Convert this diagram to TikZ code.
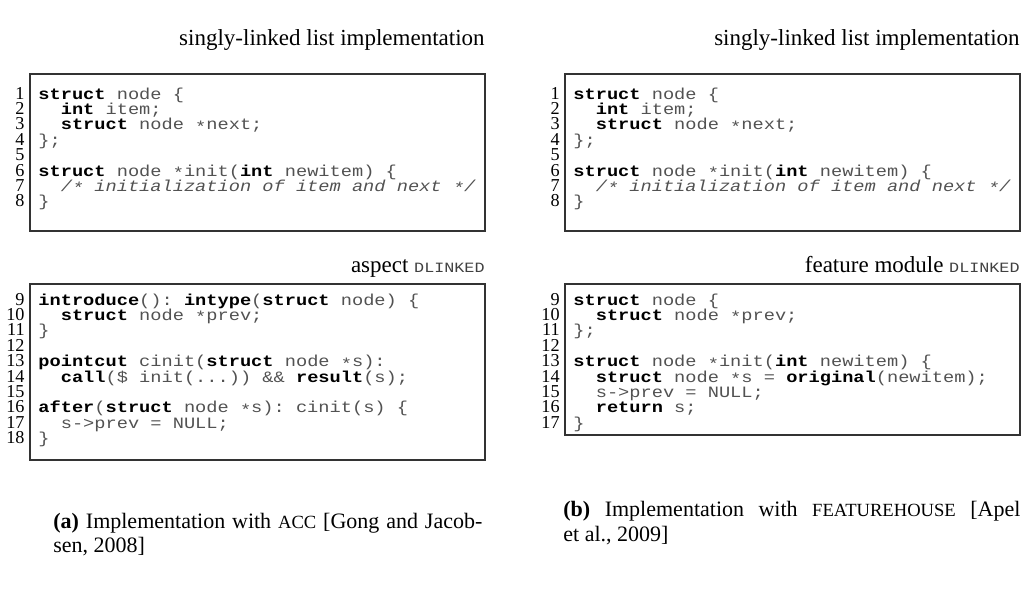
\documentclass[tikz,border=0pt]{standalone}
\usepackage{fontspec}
\setmainfont{Liberation Serif}
\setmonofont{Liberation Mono}[FakeStretch=1.18]
\newcommand\kw[1]{\textbf{\color{black}#1}}
\newcommand\cstar{\raisebox{-0.3ex}{*}}
\newcommand\fsc[1]{{\fontsize{9.3}{10}\selectfont #1}}
\newcommand\ttsc[1]{{\fontsize{7.1}{9}\ttfamily\color{black!75}#1}}
\tikzset{
  code/.style={anchor=base west, inner sep=0pt, font=\fontsize{7.91}{10}\ttfamily, text=black!68},
  lnum/.style={anchor=base east, inner sep=0pt, font=\fontsize{9.1}{11}\selectfont, text=black},
  ttl/.style={anchor=base east, inner sep=0pt, font=\fontsize{11.5}{13}\selectfont, text=black},
  captext/.style={anchor=base west, inner sep=0pt, font=\fontsize{11}{13}\selectfont, text=black},
  listframe/.style={draw=black!80, line width=0.55pt},
}
\begin{document}
\begin{tikzpicture}[x=0.5pt, y=-0.5pt]
\useasboundingbox (0,0) rectangle (1022,605);

% ---------------- left: ACC ----------------
\node[ttl] (ta1) at (485,46) {singly-linked list implementation};
\draw[listframe] (30,74) rectangle (485,231);
\node[lnum] (na1) at (25,99.0) {1};
\node[lnum] (na2) at (25,114.4) {2};
\node[lnum] (na3) at (25,129.8) {3};
\node[lnum] (na4) at (25,145.2) {4};
\node[lnum] (na5) at (25,160.6) {5};
\node[lnum] (na6) at (25,176.0) {6};
\node[lnum] (na7) at (25,191.4) {7};
\node[lnum] (na8) at (25,206.8) {8};
\node[code] (ca1) at (38,99.0) {\kw{struct} node \{};
\node[code] (ca2) at (60.4,114.4) {\kw{int} item;};
\node[code] (ca3) at (60.4,129.8) {\kw{struct} node \cstar next;};
\node[code] (ca4) at (38,145.2) {\};};
\node[code] (ca6) at (38,176.0) {\kw{struct} node \cstar init(\kw{int} newitem) \{};
\node[code] (ca7) at (60.4,191.4) {\itshape /\cstar{} initialization of item and next \cstar/};
\node[code] (ca8) at (38,206.8) {\}};

\node[ttl] (ta2) at (485,272) {aspect \ttsc{DLINKED}};
\draw[listframe] (30,284) rectangle (485,460);
\node[lnum] (na9) at (25,305.0) {9};
\node[lnum] (na10) at (25,320.4) {10};
\node[lnum] (na11) at (25,335.8) {11};
\node[lnum] (na12) at (25,351.2) {12};
\node[lnum] (na13) at (25,366.6) {13};
\node[lnum] (na14) at (25,382.0) {14};
\node[lnum] (na15) at (25,397.4) {15};
\node[lnum] (na16) at (25,412.8) {16};
\node[lnum] (na17) at (25,428.2) {17};
\node[lnum] (na18) at (25,443.6) {18};
\node[code] (ca9) at (38,305.0) {\kw{introduce}(): \kw{intype}(\kw{struct} node) \{};
\node[code] (ca10) at (60.4,320.4) {\kw{struct} node \cstar prev;};
\node[code] (ca11) at (38,335.8) {\}};
\node[code] (ca13) at (38,366.6) {\kw{pointcut} cinit(\kw{struct} node \cstar s):};
\node[code] (ca14) at (60.4,382.0) {\kw{call}(\$ init(...)) \&\& \kw{result}(s);};
\node[code] (ca16) at (38,412.8) {\kw{after}(\kw{struct} node \cstar s): cinit(s) \{};
\node[code] (ca17) at (60.4,428.2) {s->prev = NULL;};
\node[code] (ca18) at (38,443.6) {\}};

\node[captext] (capa1) at (53,528) {\makebox[214.5pt][s]{\textbf{(a)} Implementation with \fsc{ACC} [Gong and Jacob-}};
\node[captext] (capa2) at (53,552) {sen, 2008]};

% ---------------- right: FeatureHouse ----------------
\node[ttl] (tb1) at (1020,46) {singly-linked list implementation};
\draw[listframe] (565,74) rectangle (1020,231);
\node[lnum] (nb1) at (560,99.0) {1};
\node[lnum] (nb2) at (560,114.4) {2};
\node[lnum] (nb3) at (560,129.8) {3};
\node[lnum] (nb4) at (560,145.2) {4};
\node[lnum] (nb5) at (560,160.6) {5};
\node[lnum] (nb6) at (560,176.0) {6};
\node[lnum] (nb7) at (560,191.4) {7};
\node[lnum] (nb8) at (560,206.8) {8};
\node[code] (cb1) at (573,99.0) {\kw{struct} node \{};
\node[code] (cb2) at (595.4,114.4) {\kw{int} item;};
\node[code] (cb3) at (595.4,129.8) {\kw{struct} node \cstar next;};
\node[code] (cb4) at (573,145.2) {\};};
\node[code] (cb6) at (573,176.0) {\kw{struct} node \cstar init(\kw{int} newitem) \{};
\node[code] (cb7) at (595.4,191.4) {\itshape /\cstar{} initialization of item and next \cstar/};
\node[code] (cb8) at (573,206.8) {\}};

\node[ttl] (tb2) at (1020,272) {feature module \ttsc{DLINKED}};
\draw[listframe] (565,284) rectangle (1020,435);
\node[lnum] (nb9) at (560,305.0) {9};
\node[lnum] (nb10) at (560,320.4) {10};
\node[lnum] (nb11) at (560,335.8) {11};
\node[lnum] (nb12) at (560,351.2) {12};
\node[lnum] (nb13) at (560,366.6) {13};
\node[lnum] (nb14) at (560,382.0) {14};
\node[lnum] (nb15) at (560,397.4) {15};
\node[lnum] (nb16) at (560,412.8) {16};
\node[lnum] (nb17) at (560,428.2) {17};
\node[code] (cb9) at (573,305.0) {\kw{struct} node \{};
\node[code] (cb10) at (595.4,320.4) {\kw{struct} node \cstar prev;};
\node[code] (cb11) at (573,335.8) {\};};
\node[code] (cb13) at (573,366.6) {\kw{struct} node \cstar init(\kw{int} newitem) \{};
\node[code] (cb14) at (595.4,382.0) {\kw{struct} node \cstar s = \kw{original}(newitem);};
\node[code] (cb15) at (595.4,397.4) {s->prev = NULL;};
\node[code] (cb16) at (595.4,412.8) {\kw{return} s;};
\node[code] (cb17) at (573,428.2) {\}};

\node[captext] (capb1) at (563,516) {\makebox[228.5pt][s]{\textbf{(b)} Implementation with \fsc{FEATUREHOUSE} [Apel}};
\node[captext] (capb2) at (563,541) {et al., 2009]};
\end{tikzpicture}
\end{document}
